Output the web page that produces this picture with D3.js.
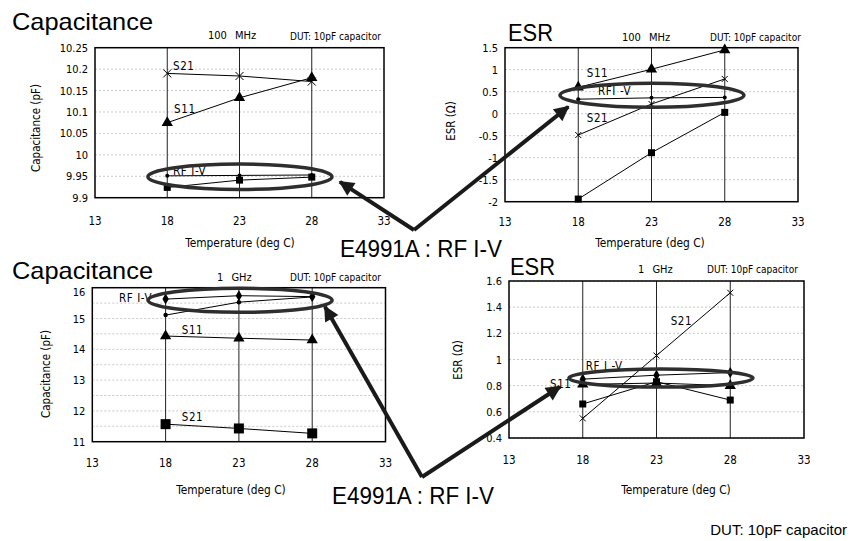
<!DOCTYPE html>
<html>
<head>
<meta charset="utf-8">
<script src="https://cdn.jsdelivr.net/npm/d3@7"></script>
<style>
body { margin: 0; background: #fff; }
svg { display: block; }
</style>
</head>
<body>
<svg width="855" height="541"></svg>
<script>
var temps = [18, 23, 28];
var xTicks = [13, 18, 23, 28, 33];

// 100 MHz, capacitance (pF)
var cap100S21 = [10.19, 10.184, 10.171];
var cap100S11 = [10.075, 10.133, 10.18];
var cap100RfIv = [9.951, 9.952, 9.953];
var cap100Sq = [9.924, 9.941, 9.948];
var cap100Ticks = [9.9, 9.95, 10, 10.05, 10.1, 10.15, 10.2, 10.25];

// 100 MHz, ESR (ohm)
var esr100S11 = [0.6, 1.01, 1.45];
var esr100S21 = [-0.485, 0.22, 0.79];
var esr100RfIv = [0.33, 0.36, 0.37];
var esr100Sq = [-1.94, -0.886, 0.03];
var esr100Ticks = [-2, -1.5, -1, -0.5, 0, 0.5, 1, 1.5];

// 1 GHz, capacitance (pF)
var cap1gRfIv = [15.63, 15.74, 15.71];
var cap1gDot = [15.11, 15.53, 15.7];
var cap1gS11 = [14.43, 14.36, 14.3];
var cap1gS21 = [11.57, 11.43, 11.27];
var cap1gTicks = [11, 12, 13, 14, 15, 16];
var cap1gGrid = [11.5, 12, 12.5, 13, 13.5, 14, 14.5, 15, 15.5];

// 1 GHz, ESR (ohm)
var esr1gS21 = [0.55, 1.03, 1.51];
var esr1gRfIv = [0.85, 0.88, 0.9];
var esr1gS11 = [0.81, 0.82, 0.8];
var esr1gSq = [0.66, 0.83, 0.69];
var esr1gTicks = [0.4, 0.6, 0.8, 1, 1.2, 1.4, 1.6];

var svg = d3.select("svg");
var NARROW = "'DejaVu Sans Condensed', 'Liberation Sans Narrow', sans-serif";
var SANS = "'Liberation Sans', Arial, sans-serif";

svg.append("defs").append("marker")
    .attr("id", "head")
    .attr("viewBox", "0 0 10 10")
    .attr("refX", 9).attr("refY", 5)
    .attr("markerWidth", 4.4).attr("markerHeight", 3.8)
    .attr("markerUnits", "strokeWidth")
    .attr("orient", "auto")
    .append("path")
    .attr("d", "M0,0L10,5L0,10z")
    .attr("fill", "#1a1a1a");

function drawMarker(g, type, x, y, size) {
    if (type == "x") {
        var h = size / 2;
        g.append("path")
            .attr("d", "M" + (x - h) + "," + (y - h) + "L" + (x + h) + "," + (y + h) +
                       "M" + (x - h) + "," + (y + h) + "L" + (x + h) + "," + (y - h))
            .attr("stroke", "#000").attr("stroke-width", 1);
    } else if (type == "dot") {
        g.append("circle").attr("cx", x).attr("cy", y).attr("r", size / 2).attr("fill", "#000");
    } else {
        var sym = type == "tri" ? d3.symbolTriangle : type == "sq" ? d3.symbolSquare : d3.symbolDiamond;
        g.append("path")
            .attr("transform", "translate(" + x + "," + y + ")")
            .attr("d", d3.symbol(sym, size * size * (type == "sq" ? 1 : 0.55))())
            .attr("fill", "#000");
    }
}

function drawPanel(p) {
    var x = d3.scaleLinear().domain([13, 33]).range([p.left, p.right]);
    var y = d3.scaleLinear().domain(p.yDomain).range([p.bottom, p.top]);
    var g = svg.append("g");

    // dotted horizontal grid
    g.selectAll(".grid").data(p.grid).enter().append("line")
        .attr("x1", p.left).attr("x2", p.right)
        .attr("y1", function (d) { return y(d); })
        .attr("y2", function (d) { return y(d); })
        .attr("stroke", "#c8c8c8").attr("stroke-width", 1)
        .attr("stroke-dasharray", "2,2");

    // vertical lines at the measured temperatures
    g.selectAll(".vline").data(temps).enter().append("line")
        .attr("x1", function (d) { return x(d); })
        .attr("x2", function (d) { return x(d); })
        .attr("y1", p.top).attr("y2", p.bottom)
        .attr("stroke", "#222").attr("stroke-width", 1);

    g.append("rect")
        .attr("x", p.left).attr("y", p.top)
        .attr("width", p.right - p.left).attr("height", p.bottom - p.top)
        .attr("fill", "none").attr("stroke", "#000").attr("stroke-width", 1.5);

    // tick labels (the top one is nudged down in some panels, as in the original)
    var topTick = p.yDomain[1];
    g.selectAll(".yt").data(p.yTicks).enter().append("text")
        .attr("x", p.left - 7)
        .attr("y", function (d) { return y(d) + 4 + (d == topTick ? (p.topShift || 0) : 0); })
        .attr("text-anchor", "end")
        .style("font", "11px " + NARROW)
        .text(function (d) { return String(d); });

    g.selectAll(".xt").data(xTicks).enter().append("text")
        .attr("x", function (d) { return x(d); })
        .attr("y", p.xTickY)
        .attr("text-anchor", "middle")
        .style("font", "11.5px " + NARROW)
        .text(function (d) { return d; });

    g.append("text")
        .attr("x", p.xTitle[0]).attr("y", p.xTitle[1])
        .attr("text-anchor", "middle")
        .style("font", "11.8px " + NARROW)
        .text("Temperature (deg C)");

    g.append("text")
        .attr("transform", "translate(" + p.yTitle[0] + "," + p.yTitle[1] + ") rotate(-90)")
        .attr("text-anchor", "middle")
        .style("font", "11.5px " + NARROW)
        .text(p.yLabel);

    g.append("text")
        .attr("x", p.title[0]).attr("y", p.title[1])
        .attr("textLength", p.title[2]).attr("lengthAdjust", "spacingAndGlyphs")
        .style("font", "24px " + SANS)
        .text(p.titleText);

    g.append("text")
        .attr("x", p.freq[0]).attr("y", p.freq[1])
        .style("font", "11px " + NARROW)
        .style("word-spacing", "5px")
        .text(p.freqText);

    g.append("text")
        .attr("x", p.dut[0]).attr("y", p.dut[1])
        .style("font", "10px " + NARROW)
        .text("DUT: 10pF capacitor");

    // series
    var line = d3.line()
        .x(function (d, i) { return x(temps[i]); })
        .y(function (d) { return y(d); });

    p.series.forEach(function (s) {
        g.append("path")
            .attr("d", line(s.values))
            .attr("fill", "none").attr("stroke", "#000").attr("stroke-width", 1);
        s.values.forEach(function (v, i) {
            drawMarker(g, s.marker, x(temps[i]), y(v), s.size);
        });
    });

    // series labels
    p.labels.forEach(function (l) {
        g.append("text")
            .attr("x", x(l[1])).attr("y", y(l[2]))
            .style("font", "11.5px " + NARROW)
            .style("letter-spacing", "0.6px")
            .text(l[0]);
    });

    // highlight ellipse around the RF I-V trace
    var e = p.ellipse;
    g.append("ellipse")
        .attr("cx", x(e[0])).attr("cy", y(e[1]))
        .attr("rx", x(e[0] + e[2]) - x(e[0]))
        .attr("ry", y(e[1]) - y(e[1] + e[3]))
        .attr("fill", "none").attr("stroke", "#2e2e2e").attr("stroke-width", 3.5);

    return { x: x, y: y };
}

var p1 = drawPanel({
    left: 95, right: 384, top: 47.7, bottom: 197.7,
    yDomain: [9.9, 10.25], yTicks: cap100Ticks, grid: cap100Ticks,
    xTickY: 225, xTitle: [240, 247], yTitle: [40, 128], yLabel: "Capacitance (pF)",
    title: [12, 30, 141], titleText: "Capacitance",
    freq: [208, 39], freqText: "100 MHz", dut: [290, 40],
    series: [
        { values: cap100S21, marker: "x", size: 8 },
        { values: cap100S11, marker: "tri", size: 10 },
        { values: cap100Sq, marker: "sq", size: 7 },
        { values: cap100RfIv, marker: "dot", size: 4 }
    ],
    labels: [["S21", 18.4, 10.198], ["S11", 18.47, 10.098], ["RF I-V", 18.4, 9.953]],
    ellipse: [23.03, 9.949, 6.37, 0.0296]
});

var p2 = drawPanel({
    left: 505, right: 798, top: 47.7, bottom: 201.7,
    yDomain: [-2, 1.5], yTicks: esr100Ticks, grid: esr100Ticks,
    xTickY: 226, xTitle: [650, 247], yTitle: [455, 121], yLabel: "ESR (\u03A9)",
    title: [508, 41, 45], titleText: "ESR",
    freq: [622, 41], freqText: "100 MHz", dut: [710, 41],
    series: [
        { values: esr100S11, marker: "tri", size: 10 },
        { values: esr100S21, marker: "x", size: 6 },
        { values: esr100Sq, marker: "sq", size: 7 },
        { values: esr100RfIv, marker: "dot", size: 4 }
    ],
    labels: [["S11", 18.58, 0.834], ["RFI -V", 19.35, 0.425], ["S21", 18.58, -0.189]],
    ellipse: [23.03, 0.418, 6.28, 0.273]
});

var p3 = drawPanel({
    left: 92.3, right: 385.5, top: 287.7, bottom: 441.7,
    yDomain: [11, 16], yTicks: cap1gTicks, grid: cap1gGrid, topShift: 4.5,
    xTickY: 467, xTitle: [231, 494], yTitle: [50, 374], yLabel: "Capacitance (pF)",
    title: [12, 279, 141], titleText: "Capacitance",
    freq: [217, 281], freqText: "1 GHz", dut: [290, 281],
    series: [
        { values: cap1gS11, marker: "tri", size: 10 },
        { values: cap1gS21, marker: "sq", size: 10 },
        { values: cap1gDot, marker: "dot", size: 4.5 },
        { values: cap1gRfIv, marker: "dia", size: 8 }
    ],
    labels: [["RF I-V", 14.82, 15.545], ["S11", 19.1, 14.497], ["S21", 19.1, 11.68]],
    ellipse: [23.08, 15.59, 6.28, 0.39]
});

var p4 = drawPanel({
    left: 509, right: 804, top: 281, bottom: 438,
    yDomain: [0.4, 1.6], yTicks: esr1gTicks, grid: esr1gTicks,
    xTickY: 464, xTitle: [676, 494], yTitle: [462, 360], yLabel: "ESR (\u03A9)",
    title: [510, 275, 45], titleText: "ESR",
    freq: [638, 273], freqText: "1 GHz", dut: [707, 273],
    series: [
        { values: esr1gS21, marker: "x", size: 6 },
        { values: esr1gSq, marker: "sq", size: 7 },
        { values: esr1gS11, marker: "tri", size: 10 },
        { values: esr1gRfIv, marker: "dia", size: 8 }
    ],
    labels: [["RF I -V", 18.2, 0.92], ["S11", 15.78, 0.782], ["S21", 23.96, 1.264]],
    ellipse: [23.3, 0.858, 6.24, 0.069]
});

// call-out arrows from the instrument labels to the RF I-V traces
function callout(apex, tipA, tipB, textPos) {
    [tipA, tipB].forEach(function (t) {
        svg.append("line")
            .attr("x1", apex[0]).attr("y1", apex[1])
            .attr("x2", t[0]).attr("y2", t[1])
            .attr("stroke", "#1a1a1a").attr("stroke-width", 4)
            .attr("marker-end", "url(#head)");
    });
    svg.append("text")
        .attr("x", textPos[0]).attr("y", textPos[1])
        .attr("textLength", 162).attr("lengthAdjust", "spacingAndGlyphs")
        .style("font", "24px " + SANS)
        .text("E4991A : RF I-V");
}

callout([414, 230], [p1.x(29.95), p1.y(9.937)], [p2.x(17.32), p2.y(0.159)], [340, 257]);
callout([422, 477], [p3.x(28.87), p3.y(15.38)], [p4.x(16.46), p4.y(0.792)], [332, 504]);

svg.append("text")
    .attr("x", 847).attr("y", 535)
    .attr("text-anchor", "end")
    .style("font", "15px " + SANS)
    .text("DUT: 10pF capacitor");
</script>
</body>
</html>
